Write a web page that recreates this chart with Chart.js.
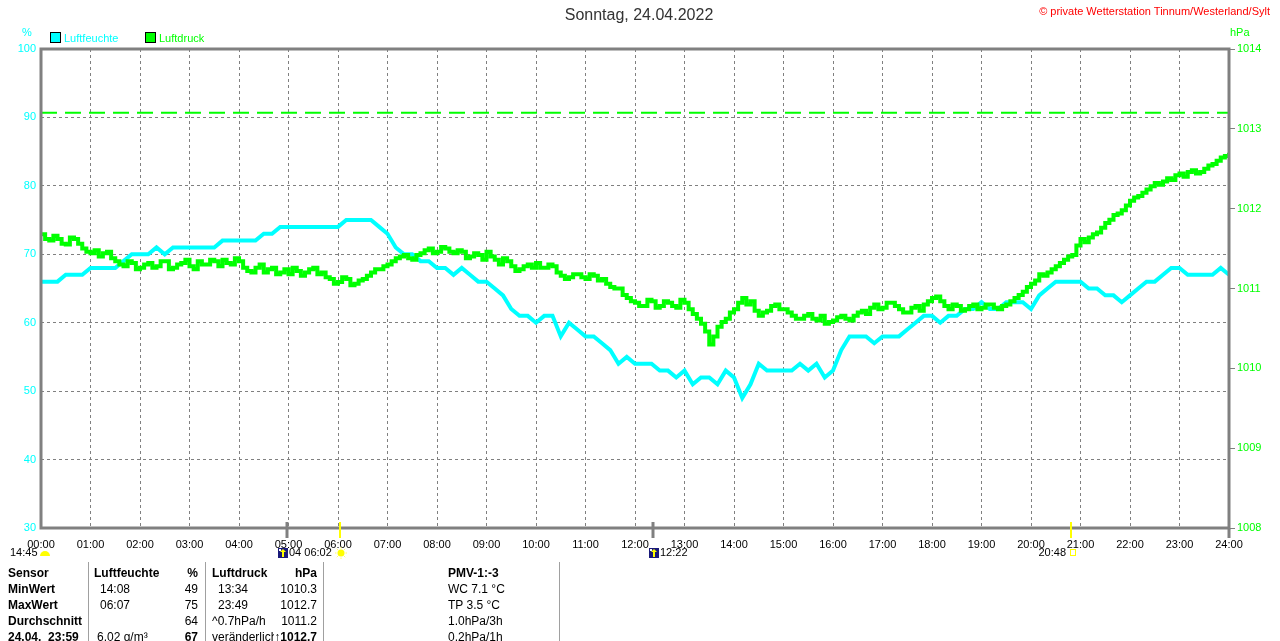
<!DOCTYPE html>
<html><head><meta charset="utf-8">
<script src="https://cdn.jsdelivr.net/npm/chart.js@4/dist/chart.umd.min.js"></script>
<style>
html,body{margin:0;padding:0;background:#fff;overflow:hidden;}
#wrap{position:relative;width:1280px;height:641px;font-family:"Liberation Sans",Arial,sans-serif;overflow:hidden;}
#c{position:absolute;left:0;top:0;width:1280px;height:641px;}
.t{position:absolute;white-space:nowrap;font-size:12px;line-height:14px;color:#000;}
.b{font-weight:bold;}
.r{text-align:right;}
.sep{position:absolute;top:562px;width:1px;height:79px;background:#a0a0a0;}
.box{position:absolute;width:9px;height:9px;border:1px solid #000;}
</style></head>
<body><div id="wrap"><canvas id="c" width="1280" height="641"></canvas>
<div class="t" style="left:0;width:1278px;top:6px;text-align:center;font-size:16px;line-height:18px;color:#333;">Sonntag, 24.04.2022</div>
<div class="t" style="right:10px;top:4px;font-size:11px;color:#ff0000;">© private Wetterstation Tinnum/Westerland/Sylt</div>
<div class="box" style="left:50px;top:32px;background:#00ffff;"></div>
<div class="t" style="left:64px;top:31px;font-size:11px;color:#00ffff;">Luftfeuchte</div>
<div class="box" style="left:145px;top:32px;background:#00ff00;"></div>
<div class="t" style="left:159px;top:31px;font-size:11px;color:#00ff00;">Luftdruck</div>
<div class="t" style="left:22px;top:25px;font-size:11px;color:#00ffff;">%</div>
<div class="t" style="left:1230px;top:25px;font-size:11px;color:#00ff00;">hPa</div>

<div class="sep" style="left:88px"></div>
<div class="sep" style="left:205px"></div>
<div class="sep" style="left:323px"></div>
<div class="sep" style="left:559px"></div>

<div class="t b" style="left:8px;top:566px">Sensor</div>
<div class="t b" style="left:8px;top:582px">MinWert</div>
<div class="t b" style="left:8px;top:598px">MaxWert</div>
<div class="t b" style="left:8px;top:614px">Durchschnitt</div>
<div class="t b" style="left:8px;top:630px">24.04.&nbsp;&nbsp;23:59</div>

<div class="t b" style="left:94px;top:566px">Luftfeuchte</div>
<div class="t" style="left:100px;top:582px">14:08</div>
<div class="t" style="left:100px;top:598px">06:07</div>
<div class="t" style="left:97px;top:630px">6.02 g/m³</div>

<div class="t b r" style="left:150px;width:48px;top:566px">%</div>
<div class="t r" style="left:150px;width:48px;top:582px">49</div>
<div class="t r" style="left:150px;width:48px;top:598px">75</div>
<div class="t r" style="left:150px;width:48px;top:614px">64</div>
<div class="t b r" style="left:150px;width:48px;top:630px">67</div>

<div class="t b" style="left:212px;top:566px">Luftdruck</div>
<div class="t" style="left:218px;top:582px">13:34</div>
<div class="t" style="left:218px;top:598px">23:49</div>
<div class="t" style="left:212px;top:614px">^0.7hPa/h</div>
<div class="t" style="left:212px;top:630px">veränderlich</div>

<div class="t b r" style="left:260px;width:57px;top:566px">hPa</div>
<div class="t r" style="left:260px;width:57px;top:582px">1010.3</div>
<div class="t r" style="left:260px;width:57px;top:598px">1012.7</div>
<div class="t r" style="left:260px;width:57px;top:614px">1011.2</div>
<div class="t b" style="right:963px;top:630px;background:#fff;">↑1012.7</div>

<div class="t b" style="left:448px;top:566px">PMV-1:-3</div>
<div class="t" style="left:448px;top:582px">WC 7.1 °C</div>
<div class="t" style="left:448px;top:598px">TP 3.5 °C</div>
<div class="t" style="left:448px;top:614px">1.0hPa/3h</div>
<div class="t" style="left:448px;top:630px">0.2hPa/1h</div>
</div>
<script>
// sampling interval of the series (minutes after 00:00)
const sampleStepMin = 10;

// Luftfeuchte (%), every 10 minutes from 00:00 to 24:00
const humidity = [
 66,66,66,67,67,67,68,68,68,68,
 69,70,70,70,71,70,71,71,71,71,
 71,71,72,72,72,72,72,73,73,74,
 74,74,74,74,74,74,74,75,75,75,
 75,74,73,71,70,70,69,69,68,68,
 67,68,67,66,66,65,64,62,61,61,
 60,61,61,58,60,59,58,58,57,56,
 54,55,54,54,54,53,53,52,53,51,
 52,52,51,53,52,49,51,54,53,53,
 53,53,54,53,54,52,53,56,58,58,
 58,57,58,58,58,59,60,61,61,60,
 61,61,62,62,63,62,62,63,63,63,
 62,64,65,66,66,66,66,65,65,64,
 64,63,64,65,66,66,67,68,68,67,
 67,67,67,68,67
];

// Luftdruck (hPa) at hh:m0, every 10 minutes from 00:00 to 24:00
const pressure = [
 1011.68,1011.60,1011.62,1011.55,1011.62,1011.50,1011.44,1011.40,1011.46,1011.34,
 1011.28,1011.32,1011.26,1011.32,1011.28,1011.34,1011.26,1011.32,1011.28,1011.34,
 1011.30,1011.34,1011.36,1011.30,1011.34,1011.22,1011.26,1011.20,1011.26,1011.20,
 1011.18,1011.22,1011.20,1011.26,1011.20,1011.12,1011.08,1011.12,1011.06,1011.12,
 1011.20,1011.24,1011.30,1011.38,1011.42,1011.36,1011.44,1011.50,1011.46,1011.50,
 1011.44,1011.46,1011.40,1011.42,1011.46,1011.36,1011.38,1011.28,1011.24,1011.30,
 1011.32,1011.26,1011.28,1011.16,1011.14,1011.18,1011.12,1011.16,1011.12,1011.02,
 1011.00,1010.88,1010.82,1010.78,1010.84,1010.78,1010.82,1010.76,1010.82,1010.68,
 1010.56,1010.30,1010.52,1010.62,1010.74,1010.88,1010.84,1010.66,1010.72,1010.80,
 1010.74,1010.66,1010.62,1010.68,1010.60,1010.56,1010.60,1010.66,1010.60,1010.70,
 1010.68,1010.80,1010.76,1010.82,1010.74,1010.70,1010.78,1010.80,1010.88,1010.84,
 1010.74,1010.78,1010.74,1010.80,1010.76,1010.80,1010.74,1010.80,1010.88,1010.96,
 1011.06,1011.18,1011.20,1011.28,1011.36,1011.42,1011.62,1011.64,1011.70,1011.82,
 1011.92,1011.98,1012.10,1012.16,1012.24,1012.32,1012.34,1012.36,1012.44,1012.46,
 1012.44,1012.50,1012.56,1012.64,1012.70
];

// Luftdruck (hPa) at hh:m5 (between the readings above)
const pressureMid = [
 1011.62,1011.66,1011.56,1011.64,1011.56,1011.46,1011.48,1011.44,1011.38,1011.30,
 1011.34,1011.24,1011.30,1011.26,1011.34,1011.24,1011.30,1011.36,1011.24,1011.30,
 1011.36,1011.28,1011.32,1011.38,1011.26,1011.20,1011.30,1011.24,1011.18,1011.24,
 1011.26,1011.16,1011.24,1011.18,1011.14,1011.06,1011.14,1011.04,1011.10,1011.16,
 1011.24,1011.28,1011.34,1011.40,1011.38,1011.42,1011.48,1011.44,1011.52,1011.46,
 1011.48,1011.38,1011.44,1011.36,1011.40,1011.30,1011.34,1011.22,1011.28,1011.26,
 1011.26,1011.30,1011.20,1011.12,1011.18,1011.14,1011.18,1011.10,1011.06,1011.00,
 1010.92,1010.84,1010.78,1010.86,1010.76,1010.84,1010.78,1010.86,1010.74,1010.62,
 1010.46,1010.40,1010.58,1010.70,1010.82,1010.80,1010.72,1010.70,1010.78,1010.74,
 1010.70,1010.62,1010.66,1010.62,1010.66,1010.58,1010.64,1010.62,1010.66,1010.72,
 1010.76,1010.74,1010.82,1010.78,1010.70,1010.76,1010.72,1010.84,1010.90,1010.78,
 1010.80,1010.72,1010.78,1010.74,1010.80,1010.76,1010.78,1010.84,1010.92,1011.02,
 1011.10,1011.16,1011.24,1011.32,1011.40,1011.54,1011.58,1011.68,1011.76,1011.86,
 1011.94,1012.04,1012.14,1012.20,1012.28,1012.30,1012.38,1012.42,1012.40,1012.48,
 1012.46,1012.54,1012.60,1012.66
];

// dashed reference line (hPa)
const pressureRefLine = 1013.2;

// axis ranges / ticks
const xRangeMin = [0, 1440];
const xTickStepMin = 60;
const humidityRange = [30, 100];
const humidityStep = 10;
const pressureRange = [1008, 1014];
const pressureStep = 1;

// sun / moon events (minutes after midnight)
const eventMinutes = [298, 362, 742, 1248];
const eventKinds = ['moon', 'sun', 'moon', 'sun'];
const eventLabels = ['04 06:02', '', '12:22', '20:48'];
const startLabel = '14:45';

const humPts = humidity.map((v, i) => ({x: i * sampleStepMin, y: v}));
const presPts = [];
pressure.forEach((v, i) => {
  presPts.push({x: i * sampleStepMin, y: v});
  if (i < pressureMid.length) presPts.push({x: i * sampleStepMin + sampleStepMin / 2, y: pressureMid[i]});
});
const refPts = [{x: xRangeMin[0], y: pressureRefLine}, {x: xRangeMin[1], y: pressureRefLine}];

const pad2 = n => (n < 10 ? '0' : '') + n;

const framePlugin = {
  id: 'frame',
  afterDatasetsDraw(chart) {
    const ctx = chart.ctx, a = chart.chartArea, xs = chart.scales.x;
    ctx.save();
    ctx.strokeStyle = '#808080';
    ctx.lineWidth = 3;
    ctx.strokeRect(a.left, a.top, a.right - a.left, a.bottom - a.top);
    ctx.beginPath();
    ctx.moveTo(a.right, a.bottom); ctx.lineTo(a.right, a.bottom + 10);
    ctx.stroke();
    eventMinutes.forEach((t, i) => {
      const px = Math.round(xs.getPixelForValue(t));
      ctx.beginPath();
      if (eventKinds[i] === 'sun') { ctx.strokeStyle = '#ffff00'; ctx.lineWidth = 2; }
      else { ctx.strokeStyle = '#808080'; ctx.lineWidth = 3; }
      ctx.moveTo(px, a.bottom - 6); ctx.lineTo(px, a.bottom + 10);
      ctx.stroke();
    });
    const ry = a.bottom + 25;
    ctx.font = '11px "Liberation Sans", Arial, sans-serif';
    ctx.textBaseline = 'middle';
    ctx.fillStyle = '#000';
    ctx.textAlign = 'left';
    ctx.fillText(startLabel, 10, ry);
    ctx.fillStyle = '#ffff00';
    ctx.beginPath(); ctx.arc(45, ry + 3, 5, Math.PI, 0); ctx.closePath(); ctx.fill();
    let px = Math.round(xs.getPixelForValue(eventMinutes[0]));
    const moonIcon = (x) => {
      ctx.fillStyle = '#1a1a7a'; ctx.fillRect(x, ry - 5, 10, 10);
      ctx.fillStyle = '#ffff00'; ctx.fillRect(x + 4, ry - 2, 2, 6);
      ctx.beginPath(); ctx.moveTo(x + 2, ry - 1); ctx.lineTo(x + 5, ry - 4); ctx.lineTo(x + 8, ry - 1); ctx.closePath(); ctx.fill();
      ctx.fillStyle = '#ffffff'; ctx.fillRect(x + 1, ry - 4, 2, 2);
    };
    moonIcon(px - 9);
    ctx.fillStyle = '#000'; ctx.textAlign = 'left';
    ctx.fillText(eventLabels[0], px + 2, ry);
    px = Math.round(xs.getPixelForValue(eventMinutes[1]));
    ctx.fillStyle = '#ffff00';
    ctx.beginPath(); ctx.arc(px + 1, ry, 3.5, 0, Math.PI * 2); ctx.fill();
    ctx.strokeStyle = '#ffff60'; ctx.lineWidth = 1;
    for (let k = 0; k < 8; k++) {
      const ang = k * Math.PI / 4;
      ctx.beginPath();
      ctx.moveTo(px + 1 + Math.cos(ang) * 4.5, ry + Math.sin(ang) * 4.5);
      ctx.lineTo(px + 1 + Math.cos(ang) * 6, ry + Math.sin(ang) * 6);
      ctx.stroke();
    }
    px = Math.round(xs.getPixelForValue(eventMinutes[2]));
    moonIcon(px - 4);
    ctx.fillStyle = '#000'; ctx.textAlign = 'left';
    ctx.fillText(eventLabels[2], px + 7, ry);
    px = Math.round(xs.getPixelForValue(eventMinutes[3]));
    ctx.textAlign = 'right';
    ctx.fillText(eventLabels[3], px - 5, ry);
    ctx.strokeStyle = '#ffff00'; ctx.lineWidth = 1;
    ctx.strokeRect(px - 0.5, ry - 3.5, 5, 6);
    ctx.restore();
  }
};

const tickFont = {family: '"Liberation Sans", Arial, sans-serif', size: 11};

new Chart(document.getElementById('c'), {
  type: 'line',
  data: {
    datasets: [
      {label: 'Luftdruck', data: presPts, yAxisID: 'y1', borderColor: '#00ff00', borderWidth: 4,
       pointRadius: 0, stepped: true, order: 0},
      {label: 'Luftfeuchte', data: humPts, yAxisID: 'y', borderColor: '#00ffff', borderWidth: 4,
       pointRadius: 0, tension: 0, order: 1},
      {label: 'ref', data: refPts, yAxisID: 'y1', borderColor: '#00ff00', borderWidth: 2,
       borderDash: [16, 8], pointRadius: 0, order: 2}
    ]
  },
  options: {
    responsive: false,
    animation: false,
    devicePixelRatio: 1,
    layout: {padding: {top: 49, left: 0, right: 0, bottom: 0}},
    plugins: {legend: {display: false}, tooltip: {enabled: false}, title: {display: false}},
    scales: {
      x: {
        type: 'linear', min: xRangeMin[0], max: xRangeMin[1],
        afterFit: s => { s.height = 113; },
        ticks: {stepSize: xTickStepMin, autoSkip: false, maxRotation: 0, color: '#000', padding: 10,
          font: tickFont, callback: v => pad2(Math.round(v / 60)) + ':00'},
        grid: {color: '#808080', lineWidth: 1, drawTicks: false, tickBorderDash: []},
        border: {display: false, dash: [3, 3]}
      },
      y: {
        position: 'left', min: humidityRange[0], max: humidityRange[1],
        afterFit: s => { s.width = 41; },
        ticks: {stepSize: humidityStep, color: '#00ffff', padding: 5, font: tickFont,
          callback: v => String(v)},
        grid: {color: '#808080', lineWidth: 1, drawTicks: false},
        border: {display: false, dash: [3, 3]}
      },
      y1: {
        position: 'right', min: pressureRange[0], max: pressureRange[1],
        afterFit: s => { s.width = 51; },
        ticks: {stepSize: pressureStep, color: '#00ff00', padding: 2, font: tickFont,
          callback: v => String(v)},
        grid: {drawOnChartArea: false, drawTicks: true, tickLength: 6, tickColor: '#808080', tickWidth: 1},
        border: {display: false}
      }
    }
  },
  plugins: [framePlugin]
});
</script>
</body></html>
